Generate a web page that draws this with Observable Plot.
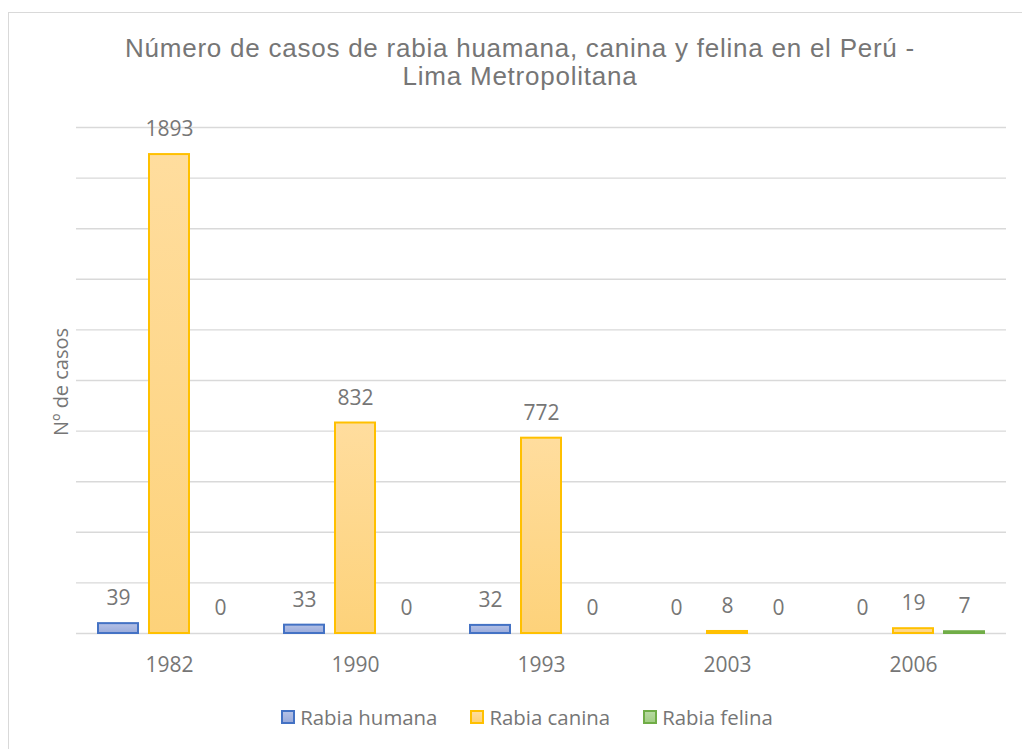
<!DOCTYPE html>
<html>
<head>
<meta charset="utf-8">
<script src="https://cdn.jsdelivr.net/npm/d3@7"></script>
<script src="https://cdn.jsdelivr.net/npm/@observablehq/plot@0.6"></script>
<style>
  html, body { margin: 0; padding: 0; background: #fff; overflow: hidden; }
  #wrap { position: relative; width: 1022px; height: 749px; overflow: hidden; }
  #box { position: absolute; left: 8px; top: 12px; width: 1040px; height: 780px; border: 1px solid #d9d9d9; box-sizing: border-box; }
  .tl { position: absolute; left: 0; width: 1040px; text-align: center; font-family: "Liberation Sans", Arial, sans-serif; font-size: 26px; line-height: 26px; color: #767676; white-space: nowrap; }
  .tl span { display: inline-block; }
  #chart { position: absolute; left: 0; top: 0; }
  #ylab { position: absolute; left: 60px; top: 382px; transform: translate(-50%, -50%) rotate(-90deg); font-family: "Open Sans", sans-serif; font-size: 20px; color: #767676; white-space: nowrap; }
  #legend { position: absolute; left: 0; width: 1054px; top: 703px; display: flex; justify-content: center; gap: 33px; font-family: "Open Sans", sans-serif; font-size: 20.4px; color: #767676; }
  #legend .item { display: flex; align-items: center; gap: 5px; }
  #legend .sw { width: 10px; height: 10px; border: 2px solid; }
</style>
</head>
<body>
<div id="wrap">
  <div id="box"></div>
  <div class="tl" id="t1" style="top:35px"><span>Número de casos de rabia huamana, canina y felina en el Perú -</span></div>
  <div class="tl" id="t2" style="top:63px"><span>Lima Metropolitana</span></div>
  <div id="chart"></div>
  <div id="ylab">Nº de casos</div>
  <div id="legend"></div>
</div>
<script>
const years = ["1982", "1990", "1993", "2003", "2006"];
const series = ["Rabia humana", "Rabia canina", "Rabia felina"];
const humana = [39, 33, 32, 0, 0];
const canina = [1893, 832, 772, 8, 19];
const felina = [0, 0, 0, 0, 7];
const yTicks = [0, 200, 400, 600, 800, 1000, 1200, 1400, 1600, 1800, 2000];

const strokes = ["#4472c4", "#ffc000", "#70ad47"];
const gradTop = ["#b4c1e6", "#ffdd9e", "#b7d9a1"];
const gradBot = ["#9aabdb", "#fdd27a", "#a2ce84"];
const gradIds = ["gH", "gC", "gF"];
const textColor = "#767676";

const valuesBySeries = [humana, canina, felina];
const rows = [];
years.forEach((y, i) => series.forEach((s, j) => rows.push({year: y, series: s, value: valuesBySeries[j][i], k: j})));

const barMarks = series.map((s, j) =>
  Plot.barY(rows.filter(d => d.k === j && d.value > 0), {
    fx: "year", x: "series", y: "value",
    fill: `url(#${gradIds[j]})`, stroke: strokes[j], strokeWidth: 2
  })
);

const chart = Plot.plot({
  width: 1022,
  height: 700,
  marginLeft: 75,
  marginRight: 16,
  marginTop: 127,
  marginBottom: 67,
  style: {fontFamily: "Open Sans, sans-serif", background: "transparent", overflow: "visible"},
  fx: {domain: years, padding: 0, label: null},
  x: {domain: series, paddingInner: 0.213, paddingOuter: 0.41, axis: null},
  y: {domain: [0, 2000], axis: null},
  marks: [
    Plot.ruleY(yTicks, {stroke: "#d9d9d9", strokeWidth: 1.4}),
    ...barMarks,
    Plot.text(rows, {fx: "year", x: "series", y: "value", text: d => String(d.value), dy: -25, fontSize: 21, fill: textColor}),
    Plot.axisFx({anchor: "bottom", tickSize: 0, tickPadding: 24, fontSize: 21, color: textColor, label: null})
  ]
});

const svg = d3.select(chart);
const defs = svg.insert("defs", ":first-child");
gradIds.forEach((id, j) => {
  const g = defs.append("linearGradient").attr("id", id).attr("x1", 0).attr("y1", 0).attr("x2", 0).attr("y2", 1);
  g.append("stop").attr("offset", "0%").attr("stop-color", gradTop[j]);
  g.append("stop").attr("offset", "100%").attr("stop-color", gradBot[j]);
});
document.getElementById("chart").appendChild(chart);

// fit title letter-spacing to the reference line width
const s1 = document.querySelector("#t1 span");
const s2 = document.querySelector("#t2 span");
const w1 = s1.getBoundingClientRect().width;
const n1 = s1.textContent.length;
const ls = Math.max(0, (790 - w1) / n1);
s1.style.letterSpacing = ls + "px";
s2.style.letterSpacing = ls + "px";

const legend = d3.select("#legend");
series.forEach((s, j) => {
  const it = legend.append("div").attr("class", "item");
  it.append("div").attr("class", "sw").style("border-color", strokes[j]).style("background", `linear-gradient(${gradTop[j]}, ${gradBot[j]})`);
  it.append("span").text(s);
});
</script>
</body>
</html>
